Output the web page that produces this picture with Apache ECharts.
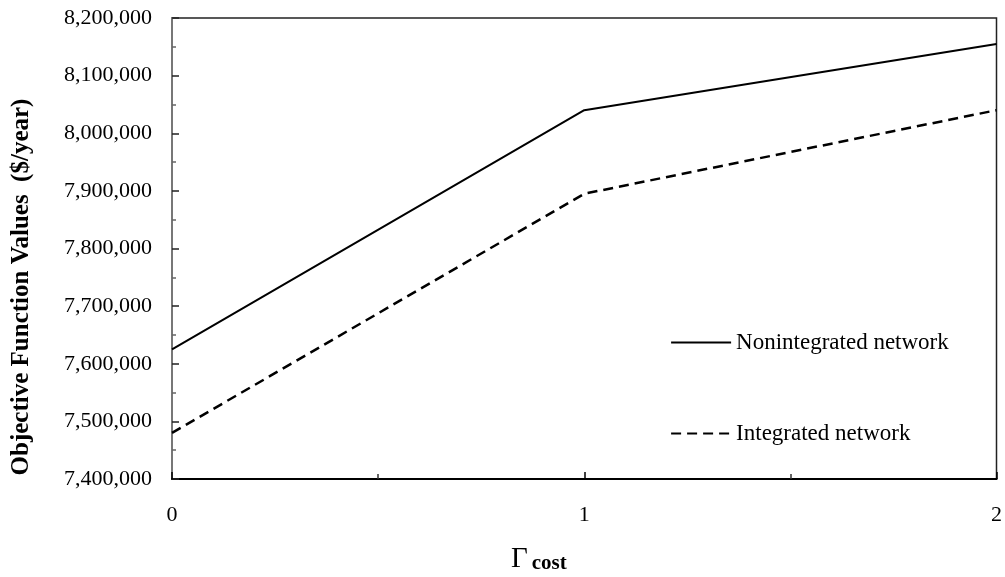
<!DOCTYPE html>
<html>
<head>
<meta charset="utf-8">
<script src="https://cdn.jsdelivr.net/npm/echarts@6/dist/echarts.min.js"></script>
<style>
html,body{margin:0;padding:0;background:#fff;}
#chart{width:1005px;height:577px;}
</style>
</head>
<body>
<div id="chart"></div>
<script>
var gammaCost = [0, 1, 2];
var nonintegrated = [7625000, 8040000, 8155000];
var integrated = [7480000, 7895000, 8040000];
var seriesNames = ['Nonintegrated network', 'Integrated network'];
var yAxisTitle = 'Objective Function Values  ($/year)';

var FONT = '"Liberation Serif", "Times New Roman", serif';

function pairs(xs, ys) { return xs.map(function (x, i) { return [x, ys[i]]; }); }

var chart = echarts.init(document.getElementById('chart'));
chart.setOption({
  animation: false,
  backgroundColor: '#fff',
  grid: {
    left: 172, right: 8, top: 18, bottom: 98,
    show: true, borderColor: '#222', borderWidth: 1.5, backgroundColor: 'transparent'
  },
  legend: {
    left: 670, top: 331, orient: 'vertical',
    padding: 0, itemWidth: 60, itemHeight: 14, itemGap: 68,
    itemStyle: { opacity: 0 },
    lineStyle: { width: 2.2 },
    textStyle: { fontFamily: FONT, fontSize: 23, color: '#000', lineHeight: 22 },
    data: seriesNames
  },
  xAxis: {
    type: 'value', min: 0, max: 2, interval: 1,
    axisLine: { show: true, lineStyle: { color: '#000', width: 2 } },
    axisTick: { show: true, inside: true, length: 7, lineStyle: { color: '#000', width: 1.5 } },
    minorTick: { show: true, splitNumber: 2, length: 5, lineStyle: { color: '#333', width: 1.5 } },
    splitLine: { show: false },
    minorSplitLine: { show: false },
    axisLabel: { margin: 25, fontFamily: FONT, fontSize: 22, color: '#000' }
  },
  yAxis: {
    type: 'value', min: 7400000, max: 8200000, interval: 100000,
    axisLine: { show: true, lineStyle: { color: '#777', width: 2 } },
    axisTick: { show: true, inside: true, length: 7, lineStyle: { color: '#222', width: 1.5 } },
    minorTick: { show: true, splitNumber: 2, length: 4, lineStyle: { color: '#666', width: 1.5 } },
    splitLine: { show: false },
    minorSplitLine: { show: false },
    axisLabel: {
      margin: 20, fontFamily: FONT, fontSize: 22, color: '#000',
      formatter: function (v) { return v.toLocaleString('en-US'); }
    }
  },
  graphic: [
    {
      type: 'text', x: 22, y: 287, rotation: Math.PI / 2,
      style: {
        text: yAxisTitle, fontFamily: FONT, fontSize: 25, fontWeight: 'bold',
        fill: '#000', align: 'center', verticalAlign: 'middle'
      }
    },
    {
      type: 'text', x: 511, y: 574,
      style: {
        text: '{g|Γ}{s|cost}',
        fontFamily: FONT, fill: '#000', verticalAlign: 'bottom', align: 'left',
        rich: {
          g: { fontFamily: FONT, fontSize: 29, fill: '#000', verticalAlign: 'bottom' },
          s: { fontFamily: FONT, fontSize: 21, fontWeight: 'bold', fill: '#000', verticalAlign: 'bottom', padding: [0, 0, 0, 4] }
        }
      }
    }
  ],
  series: [
    {
      name: seriesNames[0], type: 'line', symbol: 'none',
      data: pairs(gammaCost, nonintegrated),
      lineStyle: { color: '#000', width: 2, type: 'solid' },
      itemStyle: { color: '#000' }
    },
    {
      name: seriesNames[1], type: 'line', symbol: 'none',
      data: pairs(gammaCost, integrated),
      lineStyle: { color: '#000', width: 2.5, type: [10, 6] },
      itemStyle: { color: '#000' }
    }
  ]
});
</script>
</body>
</html>
